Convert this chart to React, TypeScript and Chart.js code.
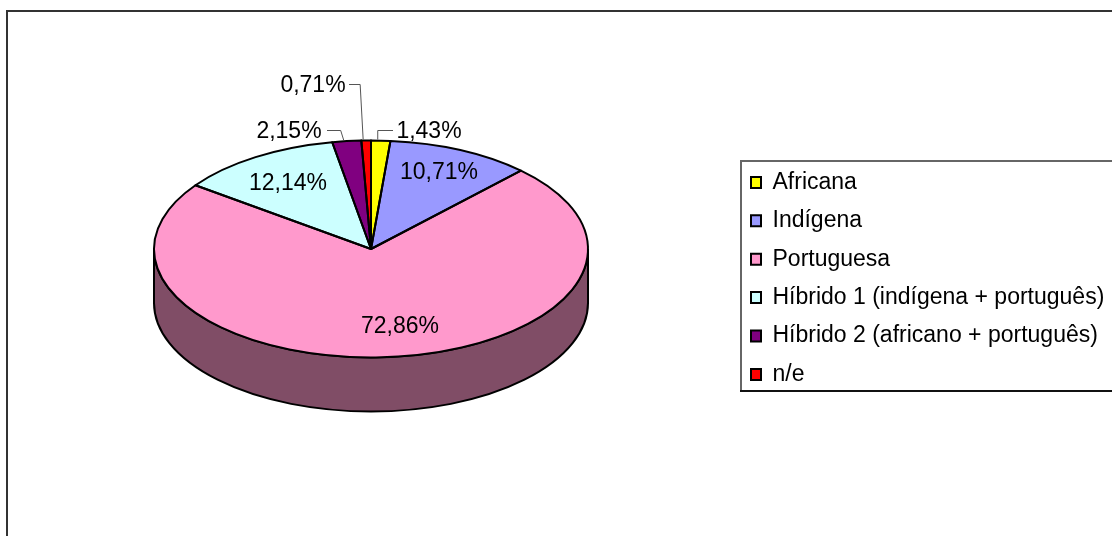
import React, { useEffect, useRef } from "react";
import { Chart, registerables } from "chart.js";

Chart.register(...registerables);

const categories = [
  "Africana",
  "Indígena",
  "Portuguesa",
  "Híbrido 1 (indígena + português)",
  "Híbrido 2 (africano + português)",
  "n/e",
];
const seriesValues = [1.43, 10.71, 72.86, 12.14, 2.15, 0.71];
const sliceColors = ["#FFFF00", "#9999FF", "#FF99CC", "#CCFFFF", "#800080", "#FF0000"];

// Presentation only: label placement relative to the pie centre
const labelCentres = [
  [58, -117],
  [68, -76],
  [29, 78],
  [-83, -65],
  [-82, -117],
  [-58, -163],
];
const leaderElbows = [
  { index: 0, textEndDx: -36, elbowDy: -119, elbowDx: 0 },
  { index: 4, textEndDx: 38, elbowDy: -119, elbowDx: -3 },
  { index: 5, textEndDx: 36, elbowDy: -165, elbowDx: -3 },
];

const SQUASH = 0.5;
const DEPTH = 54;
const SIDE_COLOR = "#804D66";
const FONT = '23px "Liberation Sans", Arial, sans-serif';

const fmt = (v: number) => v.toFixed(2).replace(".", ",") + "%";

const pie3d = {
  id: "pie3d",
  beforeDraw(chart: any) {
    const { ctx } = chart;
    ctx.save();
    ctx.fillStyle = "#ffffff";
    ctx.fillRect(0, 0, chart.width, chart.height);
    ctx.fillStyle = "#333333";
    ctx.fillRect(6, 10, chart.width - 6, 2);
    ctx.fillRect(6, 10, 2, chart.height - 10);
    // legend box
    ctx.fillStyle = "#666666";
    ctx.fillRect(740, 160, chart.width - 740, 2);
    ctx.fillRect(740, 160, 2, 232);
    ctx.fillStyle = "#111111";
    ctx.fillRect(740, 390, chart.width - 740, 2);
    ctx.restore();
  },
  afterLayout(chart: any) {
    const l = chart.legend;
    l.left = 751 - l.options.labels.padding;
    l.right = chart.width;
    l.top = 155.5;
    l.bottom = 530;
  },
  beforeDatasetsDraw(chart: any) {
    const { ctx } = chart;
    const arc = chart.getDatasetMeta(0).data[0];
    const cx = arc.x, cy = arc.y, rx = arc.outerRadius, ry = rx * SQUASH;
    ctx.save();
    ctx.beginPath();
    ctx.ellipse(cx, cy, rx, ry, 0, 0, Math.PI);
    ctx.lineTo(cx - rx, cy + DEPTH);
    ctx.ellipse(cx, cy + DEPTH, rx, ry, 0, Math.PI, 0, true);
    ctx.closePath();
    ctx.fillStyle = SIDE_COLOR;
    ctx.fill();
    ctx.strokeStyle = "#000000";
    ctx.lineWidth = 2;
    ctx.stroke();
    ctx.restore();
    ctx.save();
    ctx.translate(cx, cy);
    ctx.scale(1, SQUASH);
    ctx.translate(-cx, -cy);
  },
  afterDatasetsDraw(chart: any) {
    const { ctx } = chart;
    ctx.restore();
    const arcs = chart.getDatasetMeta(0).data;
    const cx = arcs[0].x, cy = arcs[0].y, rx = arcs[0].outerRadius, ry = rx * SQUASH;
    ctx.save();
    ctx.strokeStyle = "#000000";
    ctx.lineWidth = 2;
    ctx.lineJoin = "round";
    arcs.forEach((a: any) => {
      ctx.beginPath();
      ctx.moveTo(cx, cy);
      ctx.ellipse(cx, cy, rx, ry, 0, a.startAngle, a.endAngle);
      ctx.closePath();
      ctx.stroke();
    });
    // leader lines
    ctx.strokeStyle = "#555555";
    ctx.lineWidth = 1;
    leaderElbows.forEach(({ index, textEndDx, elbowDy, elbowDx }) => {
      const a = arcs[index];
      const mid = (a.startAngle + a.endAngle) / 2;
      const tx = cx + Math.cos(mid) * rx - 3;
      const ty = cy + Math.sin(mid) * ry;
      const endX = cx + labelCentres[index][0] + textEndDx;
      ctx.beginPath();
      ctx.moveTo(endX, cy + elbowDy + 0.5);
      ctx.lineTo(tx + elbowDx, cy + elbowDy + 0.5);
      ctx.lineTo(tx, ty - 1);
      ctx.stroke();
    });
    // value labels
    ctx.fillStyle = "#000000";
    ctx.font = FONT;
    ctx.textAlign = "center";
    ctx.textBaseline = "middle";
    seriesValues.forEach((v, i) => {
      ctx.fillText(fmt(v), cx + labelCentres[i][0], cy + labelCentres[i][1]);
    });
    ctx.restore();
  },
};

export default function App() {
  const ref = useRef<HTMLCanvasElement>(null);
  useEffect(() => {
    const chart = new Chart(ref.current as HTMLCanvasElement, {
      type: "pie",
      data: {
        labels: categories,
        datasets: [
          {
            data: seriesValues,
            backgroundColor: sliceColors,
            borderWidth: 0,
            clip: false,
          } as any,
        ],
      },
      options: {
        animation: false,
        responsive: false,
        layout: { padding: { left: 154, right: 524, top: 32, bottom: 70 } },
        plugins: {
          tooltip: { enabled: false },
          legend: {
            display: true,
            position: "chartArea",
            align: "start",
            labels: {
              boxWidth: 10,
              boxHeight: 11,
              padding: 15.4,
              color: "#000000",
              font: { family: '"Liberation Sans", Arial, sans-serif', size: 23 },
              generateLabels: (c: any) =>
                (Chart as any).overrides.doughnut.plugins.legend.labels
                  .generateLabels(c)
                  .map((it: any) => ({ ...it, strokeStyle: "#000000", lineWidth: 2 })),
            },
          },
        },
      } as any,
      plugins: [pie3d],
    });
    return () => chart.destroy();
  }, []);
  return (
    <div style={{ position: "absolute", left: 0, top: 0, width: 1112, height: 536, overflow: "hidden" }}>
      <canvas ref={ref} width={1112} height={536} style={{ display: "block" }} />
    </div>
  );
}
